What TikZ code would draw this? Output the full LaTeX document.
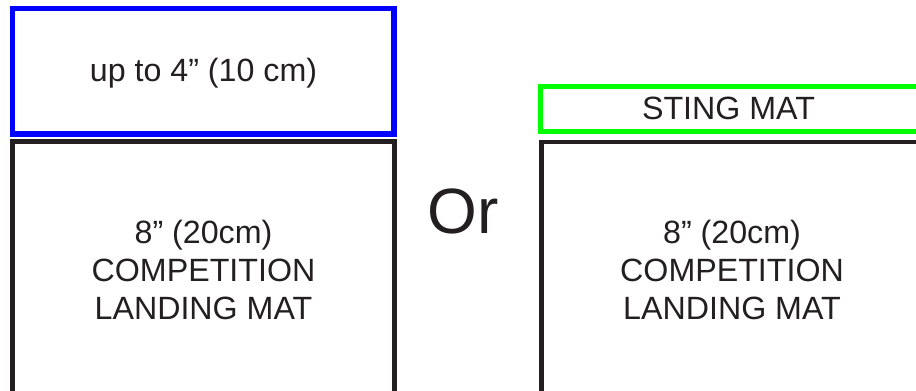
\documentclass[tikz,border=0pt]{standalone}
\usepackage{fontspec}
\setmainfont{Liberation Sans}
\definecolor{matblack}{HTML}{231F20}
\definecolor{matblue}{HTML}{0000FF}
\definecolor{matgreen}{HTML}{00FF00}
\begin{document}
\begin{tikzpicture}[x=1pt,y=-1pt,
  box/.style={draw, rectangle, inner sep=0pt},
  lbl/.style={font=\fontsize{32.2}{38}\selectfont, text=matblack, inner sep=0pt, anchor=base}]
\useasboundingbox (0,0) rectangle (916,391);
\clip (0,0) rectangle (916,391);
% left stack
\node[box, draw=matblue, line width=5.5pt, minimum width=381.5pt, minimum height=125.3pt] (topmat) at (203.25,71.35) {};
\node[box, draw=matblack, line width=4.5pt, minimum width=382pt, minimum height=278pt] (leftmat) at (203.5,280.7) {};
% right stack
\node[box, draw=matgreen, line width=5pt, minimum width=460pt, minimum height=45pt] (sting) at (770,109.2) {};
\node[box, draw=matblack, line width=4.5pt, minimum width=460pt, minimum height=278pt] (rightmat) at (771.3,281) {};
% texts
\node[lbl] (toptxt) at (203.5,81) {up to 4” (10 cm)};
\node[lbl] (stingtxt) at (728.5,119) {STING MAT};
\node[lbl] (l1) at (203.5,243) {8” (20cm)};
\node[lbl] (l2) at (203.5,281) {COMPETITION};
\node[lbl] (l3) at (203.5,319) {LANDING MAT};
\node[lbl] (r1) at (732,243) {8” (20cm)};
\node[lbl] (r2) at (732,281) {COMPETITION};
\node[lbl] (r3) at (732,319) {LANDING MAT};
\node[lbl, font=\fontsize{64}{70}\selectfont] (ortxt) at (463,233) {Or};
\end{tikzpicture}
\end{document}
